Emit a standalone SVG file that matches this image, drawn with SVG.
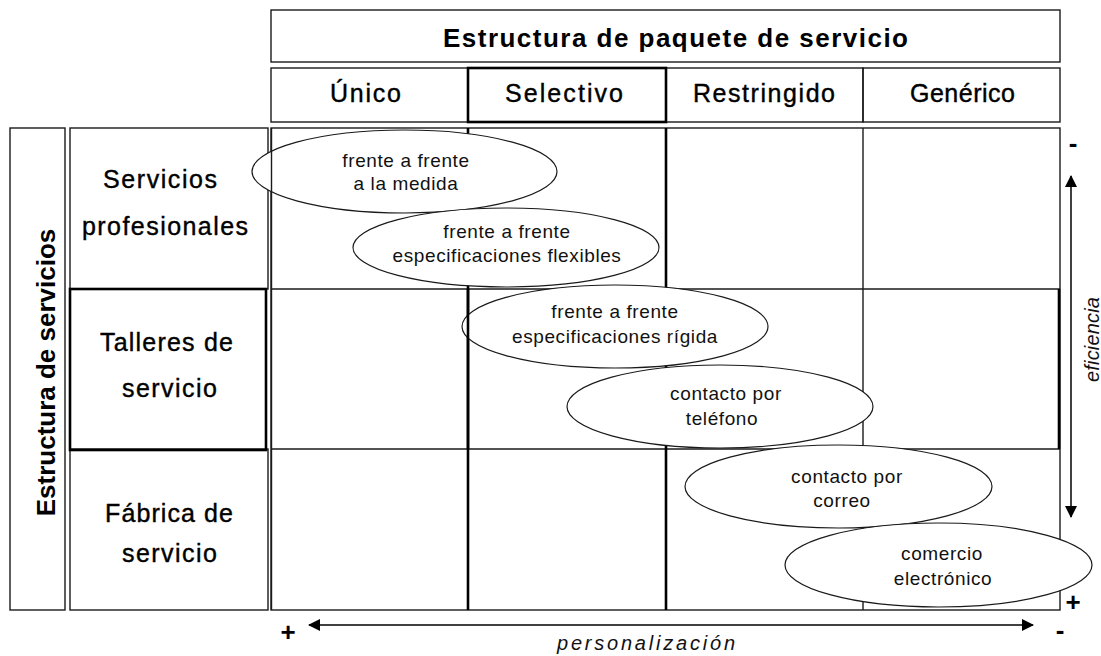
<svg xmlns="http://www.w3.org/2000/svg" width="1101" height="656" viewBox="0 0 1101 656">
<style>
.box{fill:none;stroke:#1a1a1a;stroke-width:1.4}
.bold{fill:none;stroke:#000;stroke-width:2.6}
.ln{stroke:#1a1a1a;stroke-width:1.4}
.bl{stroke:#000;stroke-width:2.6}
.ell{fill:#fff;stroke:#1a1a1a;stroke-width:1.2}
.h{font-family:"Liberation Sans",Arial,sans-serif;font-size:25px;fill:#000;stroke:#000;stroke-width:0.4}
.t{font-family:"Liberation Sans",Arial,sans-serif;font-size:19px;fill:#111;letter-spacing:0.6px;text-anchor:middle}
.it{font-family:"Liberation Sans",Arial,sans-serif;font-size:20px;font-style:italic;fill:#111}
.sg{font-family:"Liberation Sans",Arial,sans-serif;font-size:26px;font-weight:bold;fill:#000;text-anchor:middle}
</style>
<defs>
<marker id="ah" viewBox="0 0 12 12" refX="11" refY="6" markerWidth="12" markerHeight="12" markerUnits="userSpaceOnUse" orient="auto-start-reverse">
<path d="M0,0 L12,6 L0,12 Z" fill="#000"/>
</marker>
</defs>
<rect width="1101" height="656" fill="#fff"/>

<g id="grid">
<rect class="box" x="271" y="128" width="789" height="482"/>
<line class="ln" x1="271" y1="289" x2="1060" y2="289"/>
<line class="ln" x1="271" y1="449" x2="1060" y2="449"/>
<line class="ln" x1="863" y1="128" x2="863" y2="610"/>
<line class="bl" x1="468" y1="128" x2="468" y2="610"/>
<line class="bl" x1="666" y1="128" x2="666" y2="610"/>
<line class="bl" x1="1059" y1="289" x2="1059" y2="449"/>
</g>

<g id="title">
<rect class="box" x="271" y="10" width="789" height="52"/>
<text x="443" y="47" font-family="Liberation Sans, Arial, sans-serif" font-size="26" font-weight="bold" textLength="465" lengthAdjust="spacing">Estructura de paquete de servicio</text>
</g>

<g id="col-unico">
<rect class="box" x="271" y="68" width="197" height="54"/>
<text class="h" x="330" y="102" textLength="71" lengthAdjust="spacing">Único</text>
</g>
<g id="col-restringido">
<rect class="box" x="666" y="68" width="197" height="54"/>
<text class="h" x="693" y="102" textLength="142" lengthAdjust="spacing">Restringido</text>
</g>
<g id="col-generico">
<rect class="box" x="863" y="68" width="197" height="54"/>
<text class="h" x="910" y="102" textLength="105" lengthAdjust="spacing">Genérico</text>
</g>
<g id="col-selectivo">
<rect class="bold" x="468" y="68" width="198" height="54"/>
<text class="h" x="505" y="102" textLength="118" lengthAdjust="spacing">Selectivo</text>
</g>

<g id="axis-servicios">
<rect class="box" x="10" y="128" width="55" height="482"/>
<text class="sg" transform="translate(55,372.5) rotate(-90)" font-size="28">Estructura de servicios</text>
</g>

<g id="row-profesionales">
<rect class="box" x="70" y="128" width="198" height="161"/>
<text class="h" x="103" y="188" textLength="114" lengthAdjust="spacing">Servicios</text>
<text class="h" x="82" y="235" textLength="166" lengthAdjust="spacing">profesionales</text>
</g>
<g id="row-fabrica">
<rect class="box" x="70" y="449" width="198" height="161"/>
<text class="h" x="105" y="522" textLength="128" lengthAdjust="spacing">Fábrica de</text>
<text class="h" x="122" y="562" textLength="95" lengthAdjust="spacing">servicio</text>
</g>
<g id="row-talleres">
<rect class="bold" x="70" y="289" width="196" height="161"/>
<text class="h" x="100" y="351" textLength="133" lengthAdjust="spacing">Talleres de</text>
<text class="h" x="122" y="397" textLength="95" lengthAdjust="spacing">servicio</text>
</g>

<g id="e1">
<ellipse class="ell" cx="404.5" cy="171.5" rx="152.5" ry="41.5"/>
<text class="t" x="406" y="167">frente a frente</text>
<text class="t" x="406" y="190">a la medida</text>
</g>
<g id="e2">
<ellipse class="ell" cx="506" cy="247.5" rx="153" ry="39.5"/>
<text class="t" x="507" y="238">frente a frente</text>
<text class="t" x="507" y="262">especificaciones flexibles</text>
</g>
<g id="e3">
<ellipse class="ell" cx="615" cy="326.5" rx="153" ry="41.5"/>
<text class="t" x="615" y="318">frente a frente</text>
<text class="t" x="615" y="343">especificaciones rígida</text>
</g>
<g id="e4">
<ellipse class="ell" cx="720" cy="406.5" rx="153" ry="41.5"/>
<text class="t" x="726" y="400">contacto por</text>
<text class="t" x="722" y="425">teléfono</text>
</g>
<g id="e5">
<ellipse class="ell" cx="838.5" cy="486.5" rx="153.5" ry="41.5"/>
<text class="t" x="847" y="483">contacto por</text>
<text class="t" x="842" y="507">correo</text>
</g>
<g id="e6">
<ellipse class="ell" cx="938.5" cy="565" rx="153.5" ry="42"/>
<text class="t" x="942" y="560">comercio</text>
<text class="t" x="943" y="585">electrónico</text>
</g>

<g id="grid-edges">
<line class="ln" x1="271.5" y1="128" x2="271.5" y2="610"/>
<line class="bl" x1="468" y1="289" x2="468" y2="449"/>
</g>

<g id="connectors">
<line x1="1071" y1="176" x2="1071" y2="517" stroke="#000" stroke-width="1.5" marker-start="url(#ah)" marker-end="url(#ah)"/>
<line x1="309" y1="625" x2="1033" y2="625" stroke="#000" stroke-width="1.5" marker-start="url(#ah)" marker-end="url(#ah)"/>
</g>

<g id="labels">
<text class="it" transform="translate(1099,297) rotate(-90)" text-anchor="end" textLength="85" lengthAdjust="spacing">eficiencia</text>
<text class="it" x="557" y="650" font-size="23" textLength="178" lengthAdjust="spacing">personalización</text>
<text class="sg" x="1073" y="152" font-size="26">-</text>
<text class="sg" x="1073" y="611" font-size="26">+</text>
<text class="sg" x="1060" y="639" font-size="26">-</text>
<text class="sg" x="288" y="641" font-size="26">+</text>
</g>
</svg>
